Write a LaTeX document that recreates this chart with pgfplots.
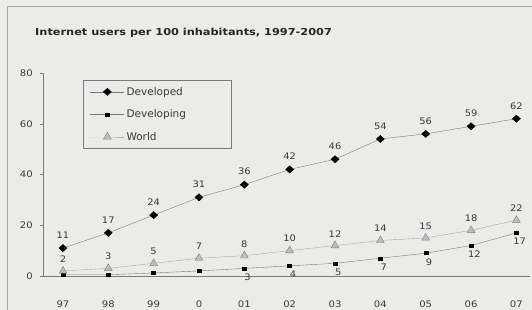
\documentclass[border=0pt]{standalone}
\usepackage{pgfplots}
\pgfplotsset{compat=1.18}
\usepackage{fontspec}
\setmainfont{DejaVu Sans}
\definecolor{bg}{HTML}{EBEBEA}
\definecolor{ln}{HTML}{7A7A7A}
\definecolor{wl}{HTML}{A8A8A8}
\definecolor{wf}{HTML}{BDBDBD}
\definecolor{tx}{HTML}{3A3A3A}
\begin{document}
\begin{tikzpicture}
\useasboundingbox (0pt,0pt) rectangle (532pt,310pt);
\fill[bg] (0pt,0pt) rectangle (532pt,310pt);
\draw[gray!70,line width=1pt] (7pt,0pt) -- (7pt,303pt) -- (532pt,303pt);
\node[anchor=west,font=\fontsize{9.6}{11}\selectfont\bfseries,text=black!85,inner sep=0pt,xscale=1.18] at (35pt,277pt) {Internet users per 100 inhabitants, 1997-2007};
\begin{axis}[
  at={(43pt,34pt)}, anchor=south west,
  scale only axis, width=487pt, height=203pt,
  xmin=-0.44, xmax=10.3, ymin=0, ymax=80,
  axis x line=bottom, axis y line=left,
  axis line style={ln,-},
  xtick={0,...,10},
  xticklabels={97,98,99,0,01,02,03,04,05,06,07},
  minor xtick={0.5,1.5,...,9.5},
  ytick={0,20,40,60,80},
  tick style={ln},
  major tick length=3pt,
  xtick style={draw=none},
  minor tick length=2pt,
  tick align=outside,
  ticklabel style={font=\fontsize{9}{10}\selectfont, text=tx, xscale=1.12},
  /pgf/number format/assume math mode=true,
  xticklabel style={yshift=-18pt},
  yticklabel style={xshift=-3pt},
  nodes near coords style={font=\fontsize{9}{10}\selectfont, text=tx, xscale=1.1},
  legend style={at={(0.082,0.966)}, anchor=north west, draw=ln, fill=bg,
    font=\fontsize{10.5}{12}\selectfont, text=tx, row sep=9pt,
    inner xsep=7pt, inner ysep=5pt, cells={anchor=west}},
  legend image code/.code={\draw[mark repeat=2,mark phase=2,#1] plot coordinates {(0pt,0pt) (17pt,0pt) (34pt,0pt)};},
  legend cell align=left,
]
\addplot[ln, mark=diamond*, mark size=3.6pt, mark options={fill=black, draw=black, xscale=1.5}]
  coordinates {(0,11)(1,17)(2,24)(3,31)(4,36)(5,42)(6,46)(7,54)(8,56)(9,59)(10,62)};
\addlegendentry{\makebox[96pt][l]{Developed}}
\addplot[ln, mark=square*, mark size=2pt, mark options={fill=black, draw=black, yscale=0.75},
  nodes near coords, point meta=explicit symbolic,
  every node near coord/.append style={anchor=north, xshift=3pt, yshift=-2pt}]
  coordinates {(0,0.5)[{}] (1,0.5)[{}] (2,1.2)[{}] (3,2)[{}] (4,3)[3] (5,4)[4] (6,5)[5] (7,7)[7] (8,9)[9] (9,12)[12] (10,17)[17]};
\addlegendentry{\makebox[96pt][l]{Developing}}
\addplot[wl, mark=triangle*, mark size=4.5pt, mark options={fill=wf, draw=gray}, 
  nodes near coords, nodes near coords align={above}, every node near coord/.append style={yshift=5pt}]
  coordinates {(0,2)(1,3)(2,5)(3,7)(4,8)(5,10)(6,12)(7,14)(8,15)(9,18)(10,22)};
\addlegendentry{\makebox[96pt][l]{World}}
\addplot[draw=none, nodes near coords, nodes near coords align={above}, every node near coord/.append style={yshift=6pt}, forget plot]
  coordinates {(0,11)(1,17)(2,24)(3,31)(4,36)(5,42)(6,46)(7,54)(8,56)(9,59)(10,62)};
\end{axis}
\end{tikzpicture}
\end{document}
